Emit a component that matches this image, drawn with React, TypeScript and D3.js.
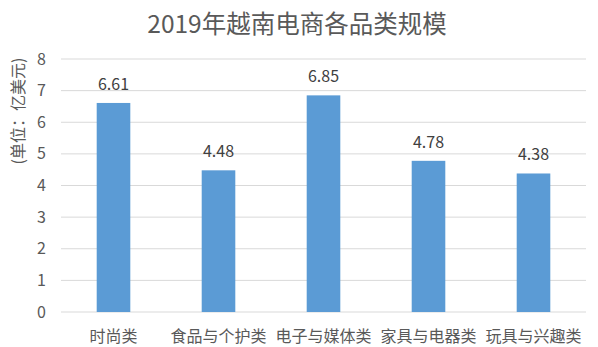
import React from "react";
import * as d3 from "d3";

const categories = ["时尚类", "食品与个护类", "电子与媒体类", "家具与电器类", "玩具与兴趣类"];
const values = [6.61, 4.48, 6.85, 4.78, 4.38];
const yTicks = [0, 1, 2, 3, 4, 5, 6, 7, 8];
const title = "2019年越南电商各品类规模";
const yLabel = "(单位：亿美元)";

const W = 598, H = 347;
const M = { left: 61, right: 12, top: 59, bottom: 35 };
const FONT = "'Noto Sans CJK SC', 'Noto Sans', sans-serif";

export default function App() {
  const x = d3.scaleBand<string>().domain(categories).range([M.left, W - M.right]).paddingInner(0.68).paddingOuter(0.34);
  const y = d3.scaleLinear().domain([0, 8]).range([H - M.bottom, M.top]);
  return (
    <svg width={W} height={H} style={{ position: "absolute", left: 0, top: 0, background: "#fff" }} fontFamily={FONT}>
      <text x={W / 2 - 2} y={33} textAnchor="middle" fontSize={24.5} fill="#595959">{title}</text>
      {yTicks.map(t => (
        <g key={t}>
          <line x1={M.left} x2={W - M.right} y1={y(t)} y2={y(t)} stroke="#d9d9d9" strokeWidth={1} />
          <text x={46} y={y(t)} dy="0.35em" textAnchor="end" fontSize={16} fill="#595959">{t}</text>
        </g>
      ))}
      <text transform={`translate(24, 111) rotate(-90)`} textAnchor="middle" fontSize={16} fill="#595959">{yLabel}</text>
      {categories.map((c, i) => (
        <g key={c}>
          <rect x={x(c)} y={y(values[i])} width={x.bandwidth()} height={y(0) - y(values[i])} fill="#5b9bd5" />
          <text x={x(c)! + x.bandwidth() / 2} y={y(values[i]) - 13} textAnchor="middle" fontSize={16} fill="#404040">{values[i].toFixed(2)}</text>
          <text x={x(c)! + x.bandwidth() / 2} y={342} textAnchor="middle" fontSize={16} fill="#595959">{c}</text>
        </g>
      ))}
    </svg>
  );
}
